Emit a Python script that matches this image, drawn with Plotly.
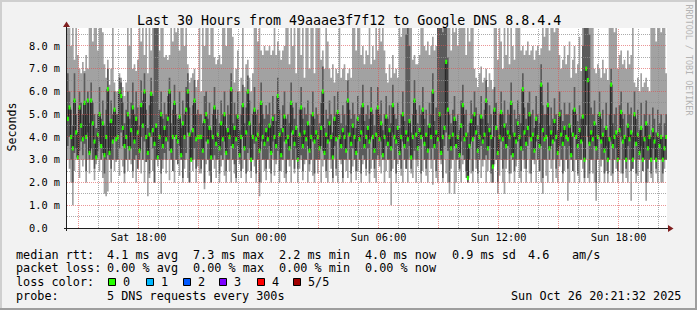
import plotly.graph_objects as go
import math

# ---------------- data (milliseconds), one value per 5-minute step ----------------
lo = [
 3.0,2.6,2.0,1.0,2.5,3.0,3.0,2.2,3.0,2.7, 3.0,2.0,3.0,2.4,3.0,3.0,2.1,2.8,3.0,2.5, 3.0,2.2,1.5,1.4,1.6,3.0,2.0,3.0,2.5,2.9,
 3.0,2.3,3.0,2.7,2.0,3.0,2.5,3.0,2.8,2.2, 3.0,2.0,2.6,3.0,2.4,3.0,2.0,2.9,1.4,2.2, 3.0,2.5,2.0,3.0,2.7,3.0,1.5,2.6,3.0,2.4,
 3.0,2.1,3.0,2.5,2.0,3.0,2.8,2.3,3.0,2.0, 2.6,3.0,2.2,2.0,3.0,2.5,3.0,2.0,2.7,2.4, 2.4,3.0,1.7,2.8,3.0,2.3,2.0,3.0,2.6,2.2,
 3.0,2.0,2.7,3.0,2.3,2.0,3.0,2.5,2.0,3.0, 2.4,2.0,3.0,2.8,2.2,2.6,3.0,2.0,2.5,3.0, 2.2,3.0,2.7,2.0,3.0,1.4,2.0,3.0,2.5,2.1,
 3.0,2.6,2.0,3.0,2.3,2.8,3.0,2.0,2.5,3.0, 2.2,2.0,3.0,2.7,2.0,3.0,2.4,3.0,2.0,2.6, 3.0,2.1,2.8,3.0,2.0,2.5,3.0,2.3,2.0,3.0,
 2.4,3.0,2.0,2.7,3.0,2.2,2.0,3.0,2.6,2.0, 3.0,2.3,2.0,3.0,2.8,2.0,3.0,2.5,2.2,3.0, 2.0,2.7,3.0,2.1,2.5,3.0,2.0,2.8,3.0,2.3,
 3.0,2.0,2.6,3.0,2.2,2.0,3.0,2.7,2.4,3.0, 2.0,2.5,3.0,2.2,1.0,2.6,3.0,2.0,2.8,3.0, 2.3,2.0,3.0,2.6,2.0,3.0,2.4,2.2,3.0,2.0,
 2.7,3.0,2.0,2.5,3.0,2.3,2.0,3.0,2.6,1.9, 3.0,2.2,2.0,3.0,2.8,2.0,3.0,2.4,2.0,1.5, 2.6,3.0,1.5,2.0,3.0,2.5,2.0,2.8,3.0,2.2,
 2.0,3.0,2.4,2.0,3.0,2.6,2.0,3.0,2.2,2.7, 3.0,2.0,2.5,3.0,2.0,2.0,2.8,3.0,1.5,2.3, 3.0,2.0,1.5,2.6,3.0,2.0,2.4,3.0,2.0,2.7,
 3.0,2.2,2.0,3.0,2.6,2.0,3.0,2.4,2.0,3.0, 2.8,2.0,3.0,2.5,2.0,1.5,3.0,2.3,2.0,3.0, 2.6,2.0,3.0,2.2,2.0,2.7,3.0,2.0,2.5,3.0,
 1.2,2.0,3.0,2.5,2.0,3.0,2.3,2.0,3.0,2.6, 2.0,3.0,2.2,2.0,3.0,2.4,2.0,1.2,3.0,2.0, 2.7,3.0,2.0,2.5,2.0,3.0,2.3,2.0,3.0,2.6,
 2.0,3.0,2.4,2.0,3.0,2.2,2.0,3.0,1.2,2.6, 3.0,2.0,2.3,3.0,2.0,2.5,3.0,1.2,2.0,3.0, 2.2,2.0,3.0,2.4,2.0,3.0,2.0,2.0,2.6,3.0,
]
q1 = [
 3.6,4.0,3.0,2.0,3.3,3.5,3.0,3.4,3.8,3.2, 3.7,2.5,4.2,3.0,3.5,3.0,2.6,3.0,3.4,3.8, 3.0,3.3,2.4,3.0,3.2,3.0,2.6,3.0,4.0,3.0,
 3.0,3.5,4.2,3.6,2.4,3.0,3.6,3.0,3.5,2.5, 3.0,3.2,2.6,3.0,4.0,3.0,3.8,2.9,3.0,2.4, 4.0,3.5,2.0,3.0,3.0,3.0,2.4,3.0,3.3,3.0,
 3.8,3.4,3.0,2.5,4.0,3.0,2.8,3.6,3.0,2.2, 3.0,3.3,4.2,2.0,3.0,3.0,3.5,2.6,3.0,3.0, 2.6,3.0,2.0,3.8,3.0,2.5,2.0,3.0,3.2,3.0,
 3.0,2.4,3.2,3.0,3.8,2.5,3.0,3.0,3.6,3.0, 2.8,2.2,3.6,3.0,2.5,4.0,3.0,2.4,3.3,3.5, 2.5,3.0,3.7,2.4,3.0,2.0,3.8,3.0,3.0,2.6,
 3.0,3.6,2.4,3.8,3.0,3.0,3.4,2.5,3.0,3.0, 3.8,2.4,3.0,3.0,4.2,3.0,2.6,3.5,2.6,3.0, 3.2,2.5,3.0,3.0,3.6,2.8,3.0,3.8,2.4,3.0,
 3.0,3.0,3.6,3.4,3.0,2.5,3.0,3.8,3.0,2.2, 3.6,2.6,4.0,3.0,3.0,2.2,3.0,3.0,4.2,3.0, 2.4,3.5,3.0,2.5,3.8,3.0,2.4,3.2,3.0,2.6,
 3.5,2.4,4.0,3.0,2.6,3.0,3.2,3.0,3.8,3.0, 3.0,3.6,3.0,3.0,2.5,4.2,3.0,2.4,3.6,3.0, 2.6,3.8,3.0,2.6,3.0,3.6,2.6,3.0,3.4,3.0,
 3.0,3.6,2.4,4.0,3.0,2.6,3.0,3.5,3.0,3.5, 3.0,2.5,3.0,3.8,3.0,2.2,3.6,4.2,3.4,2.0, 3.0,3.0,3.6,3.0,3.0,2.6,3.8,3.2,3.0,2.5,
 2.0,3.0,3.8,2.5,4.0,3.0,2.4,3.0,3.6,3.0, 3.0,3.2,3.0,3.6,2.4,2.0,4.0,3.0,2.0,3.0, 3.8,2.6,3.0,3.0,3.6,2.4,3.2,3.0,2.5,3.0,
 3.8,3.0,2.5,3.4,3.0,2.6,3.6,4.0,2.4,3.0, 3.0,3.8,3.0,2.5,3.6,2.2,3.0,3.0,4.0,3.0, 3.6,3.0,3.8,2.6,3.0,3.6,3.0,2.4,3.6,3.0,
 2.6,3.6,3.0,2.5,4.0,3.0,2.4,3.0,3.0,3.8, 2.2,4.5,4.0,2.4,3.0,3.0,3.6,2.0,3.0,4.0, 3.0,3.0,2.4,3.6,2.4,3.0,3.8,2.4,3.0,3.5,
 2.5,3.0,4.0,2.4,3.0,2.6,3.6,3.0,2.5,2.6, 3.8,2.4,3.0,3.0,3.6,2.5,3.0,2.0,2.6,3.0, 2.4,3.5,3.0,2.6,3.0,3.0,3.0,2.4,3.0,3.0,
]
med = [
 4.8,5.3,4.0,3.5,5.6,4.2,3.1,5.3,4.5,3.9, 5.5,4.0,5.6,3.3,5.6,4.6,3.8,3.1,4.1,5.0, 3.6,4.6,3.2,4.0,6.1,3.3,4.7,3.8,5.2,3.9,
 4.0,6.0,5.8,4.4,3.6,4.0,5.0,3.5,4.3,5.3, 3.8,4.8,4.2,3.4,5.4,4.5,6.0,4.0,3.3,4.1, 5.9,4.3,3.7,4.5,3.1,4.0,5.0,3.6,4.4,3.9,
 4.8,6.0,3.4,4.0,5.5,4.0,3.8,4.9,3.2,4.6, 4.0,5.2,6.0,4.1,3.0,4.3,5.6,3.9,4.0,4.0, 4.0,3.4,4.7,5.0,3.8,4.4,3.1,4.0,5.3,3.7,
 4.1,3.5,4.6,3.9,5.0,3.3,4.3,4.0,6.1,3.6, 4.4,3.9,4.9,3.2,4.0,5.4,3.5,4.2,6.0,4.6, 3.0,4.0,5.2,3.9,4.1,3.4,5.5,4.0,3.7,4.3,
 3.9,4.5,3.3,4.8,4.0,3.6,5.8,4.1,3.2,4.3, 4.9,3.8,4.0,3.5,5.5,4.2,3.7,4.4,3.0,4.1, 5.3,3.6,4.2,3.9,4.6,3.4,4.0,5.0,3.8,4.2,
 4.0,3.5,4.4,6.0,3.3,4.1,3.8,4.6,4.0,3.1, 4.8,3.9,5.1,4.0,3.6,4.3,4.0,3.4,5.6,4.1, 3.7,4.5,4.0,3.3,4.8,3.9,4.2,5.4,3.6,4.0,
 4.4,3.8,5.2,4.0,3.4,4.1,5.3,3.9,4.6,3.2, 4.0,4.9,3.7,4.3,3.5,5.4,4.0,3.8,4.4,3.3, 4.0,5.0,3.6,4.2,3.9,4.7,3.1,4.0,5.6,4.1,
 3.5,4.3,4.0,5.2,3.7,4.1,3.4,4.5,4.0,6.0, 3.6,4.2,3.9,5.0,3.3,4.0,4.4,7.3,5.2,4.0, 3.5,4.1,4.8,3.6,4.0,3.2,4.5,5.4,3.9,4.1,
 2.2,3.6,4.7,3.9,5.0,4.2,3.4,4.0,4.9,3.8, 4.1,5.6,3.5,4.3,4.0,2.7,5.2,4.4,3.3,4.0, 5.1,3.9,4.5,3.6,4.2,4.0,5.5,3.2,4.1,3.8,
 4.6,4.0,3.5,6.1,4.2,3.7,4.4,5.0,3.9,4.1, 3.4,4.8,4.0,3.6,6.3,4.3,3.9,4.0,5.4,3.5, 4.2,3.8,4.7,4.0,3.3,5.0,4.1,3.7,4.4,4.0,
 3.9,4.5,3.2,4.1,5.2,4.0,3.6,4.3,3.8,4.9, 3.0,7.0,6.5,3.7,4.2,3.9,4.6,3.5,4.0,5.0, 3.8,4.1,3.4,4.4,3.0,3.9,6.3,3.6,4.0,4.2,
 3.0,4.3,5.1,3.8,4.0,3.0,4.5,3.9,4.2,3.0, 5.0,3.7,4.1,3.3,4.4,3.0,3.9,4.6,3.5,4.0, 3.0,4.3,3.8,3.0,4.1,3.6,4.0,3.0,3.5,4.0,
]
q3 = [
 6.8,6.0,5.2,4.5,6.8,5.0,4.2,6.0,5.5,5.0, 6.8,5.0,6.0,4.6,6.4,5.5,5.0,4.4,5.0,6.2, 4.8,5.6,4.5,5.2,7.0,4.6,5.6,5.0,6.0,5.0,
 5.0,6.6,6.4,5.5,4.6,5.2,6.0,4.8,5.5,6.4, 5.0,6.0,5.3,4.5,6.5,5.6,6.8,5.2,4.4,5.4, 6.6,5.8,8.8,9.0,8.8,5.2,6.0,4.8,5.5,5.0,
 5.8,6.6,4.6,5.2,6.3,5.0,4.8,6.0,4.4,5.6, 5.0,6.2,6.8,5.3,4.2,5.4,6.5,5.0,5.2,5.0, 5.0,4.6,5.8,6.0,4.8,5.5,4.3,5.0,6.2,4.8,
 5.2,4.6,5.6,5.0,6.0,4.4,5.4,5.0,6.8,4.6, 5.5,5.0,6.0,4.3,5.0,6.3,4.6,5.3,6.7,5.6, 4.1,5.0,6.2,5.0,5.2,4.6,6.4,5.0,4.8,5.4,
 5.0,5.5,4.5,5.8,5.0,4.7,6.6,5.2,4.4,5.4, 6.0,4.8,5.0,4.6,6.4,5.3,4.8,5.5,4.0,5.2, 6.2,4.8,5.3,5.0,5.6,4.5,5.0,6.0,4.8,5.3,
 5.0,4.6,5.5,7.1,4.4,5.2,4.8,5.6,5.0,4.2, 5.8,5.0,6.0,5.0,4.6,5.4,5.0,4.5,6.5,5.2, 4.8,5.5,5.0,4.4,5.8,5.0,5.3,6.3,4.7,5.0,
 5.4,4.8,6.2,5.0,4.5,5.2,6.2,5.0,5.6,4.3, 5.0,5.8,4.8,5.4,4.6,6.3,5.0,4.8,5.5,4.4, 5.0,6.0,4.7,8.5,8.8,8.0,4.2,5.0,6.5,5.2,
 4.6,5.4,5.0,6.2,4.8,5.2,4.5,5.5,5.0,6.8, 4.7,5.3,8.8,9.0,9.0,8.6,9.0,9.0,7.5,5.0, 4.6,5.2,5.8,4.7,5.0,4.3,5.6,6.3,5.0,5.2,
 4.2,4.6,5.6,5.0,6.0,5.3,4.5,5.0,5.8,4.8, 5.2,6.5,4.6,5.4,5.0,4.0,6.2,5.5,4.3,5.0, 6.0,5.0,5.6,4.6,5.2,5.0,6.4,4.2,5.2,4.8,
 5.6,5.0,4.6,6.8,5.3,4.8,5.5,6.0,5.0,5.2, 4.4,5.8,5.0,4.6,7.2,5.4,5.0,5.0,6.4,4.5, 5.3,4.8,5.7,5.0,4.3,6.0,5.2,4.7,5.5,5.0,
 5.0,5.5,4.2,5.2,6.2,5.0,4.7,5.4,4.8,8.0, 8.8,9.0,9.0,8.5,5.3,5.0,5.6,4.5,5.0,6.0, 4.8,5.2,4.4,5.5,4.0,5.0,7.0,4.6,5.0,5.3,
 4.0,5.4,6.0,4.8,5.0,4.0,5.5,5.0,5.3,4.0, 6.0,4.8,5.2,4.3,5.5,4.0,5.0,5.6,4.5,5.0, 4.0,5.3,4.8,4.2,5.2,4.6,5.0,4.0,4.6,5.0,
]
hi = [
 9.5,9.5,8.0,9.5,7.4,9.5,7.6,7.0,6.8,7.3, 6.9,7.6,7.0,9.5,9.5,8.2,9.5,9.5,7.8,9.5, 9.5,8.6,7.2,6.6,7.4,6.3,7.0,9.5,6.4,6.0,
 6.0,6.8,6.6,6.2,5.8,6.4,9.5,8.0,9.5,7.0, 7.2,6.9,7.4,9.5,8.2,9.5,7.6,9.5,6.8,9.5, 7.8,9.5,9.5,9.5,9.5,7.8,9.5,9.5,7.5,7.6,
 7.4,7.6,9.5,8.2,9.5,8.6,9.5,7.8,9.5,9.5, 8.0,9.5,7.2,6.4,6.6,6.8,7.0,6.2,6.5,9.5, 6.0,9.5,8.0,9.5,9.5,7.6,9.5,9.5,7.5,7.2,
 7.4,7.6,7.2,9.5,9.5,8.0,9.5,9.5,9.5,8.4, 6.4,7.0,7.8,6.0,6.6,9.5,6.2,7.2,7.4,6.6, 6.0,6.8,9.5,9.5,8.2,9.5,7.8,7.6,8.0,7.8,
 7.8,8.0,7.6,7.8,9.5,7.6,8.2,7.8,7.4,7.8, 8.0,9.5,9.5,7.2,9.5,8.0,9.5,6.8,9.5,9.5, 7.6,9.5,6.6,9.5,9.5,7.0,9.5,9.5,6.8,9.5,
 9.5,9.5,7.4,7.8,7.0,9.5,8.2,7.0,6.6,7.2, 6.4,7.0,6.8,9.5,6.6,7.0,7.2,6.5,6.8,7.0, 6.6,9.5,9.5,7.8,9.5,9.5,7.6,8.0,7.2,7.8,
 7.6,9.5,7.2,8.0,7.4,9.5,7.8,9.5,8.2,9.5, 7.8,6.8,6.4,7.2,6.6,7.6,6.8,7.0,6.6,9.5, 8.4,9.5,9.5,9.5,9.5,9.5,9.5,7.4,7.6,7.2,
 7.2,7.6,9.5,9.5,8.0,7.8,8.2,7.6,8.0,8.4, 7.8,8.0,9.5,9.5,9.5,9.5,9.5,9.5,9.5,9.5, 7.8,9.5,8.6,9.5,8.0,9.5,9.5,8.8,9.5,7.6,
 9.5,8.2,9.5,9.5,7.0,6.6,6.2,6.8,7.1,6.4, 6.6,7.0,6.2,6.8,6.5,6.1,9.5,9.5,7.4,9.5, 8.2,7.0,9.5,7.6,9.5,7.2,9.5,8.0,7.4,9.5,
 9.5,9.5,7.8,8.0,7.6,7.8,8.2,7.6,7.8,8.0, 7.4,7.8,8.0,7.6,7.9,9.5,8.4,9.5,9.5,7.8, 9.5,9.5,8.6,9.5,9.5,7.6,7.0,7.4,8.0,7.2,
 7.6,8.2,6.6,7.4,8.0,6.8,7.2,8.4,6.9,9.5, 9.5,9.5,9.5,9.5,9.5,9.5,7.0,6.8,7.2,7.0, 6.6,7.4,6.8,7.0,6.5,9.5,9.5,9.5,8.6,9.5,
 7.0,7.6,7.8,7.2,7.4,7.0,7.8,7.2,7.6,9.5, 6.4,6.2,6.6,6.0,6.8,6.2,6.4,6.6,6.2,6.0, 9.5,9.5,9.5,8.2,9.5,9.5,8.6,9.5,9.5,6.8,
]

x_tick_hours = [-6, 0, 6, 12, 18]
x_tick_text = ["Sat 18:00", "Sun 00:00", "Sun 06:00", "Sun 12:00", "Sun 18:00"]
y_tick_vals = [0, 1, 2, 3, 4, 5, 6, 7, 8]
y_tick_text = ["0.0\u00a0\u00a0", "1.0 m", "2.0 m", "3.0 m", "4.0 m", "5.0 m", "6.0 m", "7.0 m", "8.0 m"]

title_text = "Last 30 Hours from 49aaae3f7f12 to Google DNS 8.8.4.4"
rtt_items = ["4.1 ms avg", "7.3 ms max", "2.2 ms min", "4.0 ms now", "0.9 ms sd", "4.6", "am/s"]
loss_items = ["0.00 % avg", "0.00 % max", "0.00 % min", "0.00 % now"]
loss_labels = ["0", "1", "2", "3", "4", "5/5"]
loss_colors = ["#26ff00", "#00b8ff", "#0059ff", "#7e00ff", "#ff0000", "#a10000"]
probe_text = "5 DNS requests every 300s"
date_text = "Sun Oct 26 20:21:32 2025"

# ---------------- layout constants ----------------
FONT = "DejaVu Sans Mono"
W, H = 697, 310
L, T, PW, PH = 67, 28, 600, 200
Y_MAX = 8.79
X_START = -9.58          # hours relative to Sun 00:00
STEP = 5 / 60
LIGHT = "#a2a2a2"
DARK = "#5b5b5b"
MEDLINE = "#202020"


def fx(px):
    return (px - L) / PW


def fy(py):
    return (T + PH - py) / PH


def nb(s):
    return s.replace(" ", "\u00a0")


n = len(med)
edges = [X_START + i * STEP for i in range(n + 1)]
centers = [X_START + (i + 0.5) * STEP for i in range(n)]


def stepped(v):
    return list(v) + [v[-1]]


fig = go.Figure()
common = dict(mode="lines", hoverinfo="skip", showlegend=False)
fig.add_trace(go.Scatter(x=edges, y=stepped(lo), line=dict(width=0, shape="hv", color="rgba(0,0,0,0)"), **common))
fig.add_trace(go.Scatter(x=edges, y=stepped(hi), line=dict(width=0, shape="hv", color="rgba(0,0,0,0)"),
                         fill="tonexty", fillcolor=LIGHT, **common))
fig.add_trace(go.Scatter(x=edges, y=stepped(q1), line=dict(width=0, shape="hv", color="rgba(0,0,0,0)"), **common))
fig.add_trace(go.Scatter(x=edges, y=stepped(q3), line=dict(width=0, shape="hv", color="rgba(0,0,0,0)"),
                         fill="tonexty", fillcolor=DARK, **common))
fig.add_trace(go.Scatter(x=edges, y=stepped(med), line=dict(width=1, shape="hv", color=MEDLINE), **common))
fig.add_trace(go.Scatter(x=centers, y=med, mode="markers", hoverinfo="skip", showlegend=False,
                         marker=dict(symbol="line-ns", size=3, color=loss_colors[0],
                                     line=dict(width=2, color=loss_colors[0]))))

shapes = []
# grid (drawn above the smoke, dotted like rrdtool)
MINOR = "rgba(143,143,143,0.75)"
MAJOR = "rgba(222,79,79,0.6)"
k = 1
while k * 0.5 <= Y_MAX:
    v = k * 0.5
    py = math.floor(T + PH - v * PH / Y_MAX) + 0.5
    shapes.append(dict(type="line", xref="paper", yref="paper", x0=0, x1=1, y0=fy(py), y1=fy(py),
                       line=dict(color=MAJOR if k % 2 == 0 else MINOR, width=1, dash="1px,1px"), layer="above"))
    k += 1
for h in range(-9, 21):
    px = math.floor(L + (h - X_START) * PW / 30) + 0.5
    if px < L or px > L + PW:
        continue
    shapes.append(dict(type="line", xref="paper", yref="paper", x0=fx(px), x1=fx(px), y0=0, y1=1,
                       line=dict(color=MAJOR if h % 3 == 0 else MINOR, width=1, dash="1px,1px"), layer="above"))
# axes + arrows
AX = "#1f1f1f"
ARROW = "#801f1f"
shapes.append(dict(type="line", xref="paper", yref="paper", x0=fx(64), x1=fx(669), y0=fy(228.5), y1=fy(228.5),
                   line=dict(color=AX, width=1), layer="above"))
shapes.append(dict(type="line", xref="paper", yref="paper", x0=fx(66.5), x1=fx(66.5), y0=fy(231), y1=fy(25),
                   line=dict(color=AX, width=1), layer="above"))
shapes.append(dict(type="path", xref="paper", yref="paper",
                   path=f"M{fx(668)},{fy(225)} L{fx(673.5)},{fy(228.5)} L{fx(668)},{fy(232)} Z",
                   fillcolor=ARROW, line=dict(width=0), layer="above"))
shapes.append(dict(type="path", xref="paper", yref="paper",
                   path=f"M{fx(63)},{fy(27)} L{fx(66.5)},{fy(21.5)} L{fx(70)},{fy(27)} Z",
                   fillcolor=ARROW, line=dict(width=0), layer="above"))
# image shading border
for (x0, y0, x1, y1, c) in [(0, 0, W, 2, "#cfcfcf"), (0, 0, 2, H, "#cfcfcf"),
                            (0, H - 2, W, H, "#9e9e9e"), (W - 2, 0, W, H, "#9e9e9e")]:
    shapes.append(dict(type="rect", xref="paper", yref="paper", x0=fx(x0), x1=fx(x1), y0=fy(y0), y1=fy(y1),
                       fillcolor=c, line=dict(width=0), layer="above"))
# loss colour boxes
box_x = [108.5, 146.5, 183.5, 219.5, 257.5, 293.5]
for bx, c in zip(box_x, loss_colors):
    shapes.append(dict(type="rect", xref="paper", yref="paper", x0=fx(bx), x1=fx(bx + 7), y0=fy(278.5), y1=fy(285.5),
                       fillcolor=c, line=dict(width=1, color="#000000"), layer="above"))

ann = []


def text(s, x, y, size=11.8, anchor="left", angle=0, color="#000000"):
    ann.append(dict(text=nb(s), x=fx(x), y=fy(y), xref="paper", yref="paper", showarrow=False,
                    xanchor=anchor, yanchor="middle", textangle=angle, borderpad=0, borderwidth=0,
                    font=dict(family=FONT, size=size, color=color)))


text(title_text, 348.5, 20.5, size=13.3, anchor="center")
text("Seconds", 11, 127.5, size=11.6, anchor="center", angle=-90)
text("RRDTOOL / TOBI OETIKER", 688.5, 60, size=8.4, anchor="center", angle=90, color="#b4b4b4")

row_y = [254.5, 268, 282, 296]
col_x = [107, 193, 279, 365, 452, 528, 572]
text("median rtt:", 16, row_y[0])
for s, x in zip(rtt_items, col_x):
    text(s, x, row_y[0])
text("packet loss:", 16, row_y[1])
for s, x in zip(loss_items, col_x):
    text(s, x, row_y[1])
text("loss color:", 16, row_y[2])
for s, x in zip(loss_labels, [123, 161, 198, 234, 272, 308]):
    text(s, x - 0.5, row_y[2])
text("probe:", 16, row_y[3])
text(probe_text, 107, row_y[3])
text(date_text, 681, row_y[3], anchor="right")

fig.update_layout(
    width=W, height=H,
    margin=dict(l=L, r=W - L - PW, t=T, b=H - T - PH, pad=0),
    paper_bgcolor="#f2f2f2", plot_bgcolor="#ffffff",
    showlegend=False, shapes=shapes, annotations=ann,
    font=dict(family=FONT, color="#000000"),
    xaxis=dict(range=[X_START, X_START + 30], tickvals=x_tick_hours, ticktext=x_tick_text,
               showgrid=False, zeroline=False, showline=False, ticks="", ticklabelstandoff=2,
               tickfont=dict(family=FONT, size=10.3, color="#000000"), fixedrange=True),
    yaxis=dict(range=[0, Y_MAX], tickvals=y_tick_vals, ticktext=y_tick_text,
               showgrid=False, zeroline=False, showline=False, ticks="", ticklabelstandoff=6,
               tickfont=dict(family=FONT, size=10.3, color="#000000"), fixedrange=True),
)

fig.write_html("out.html")
